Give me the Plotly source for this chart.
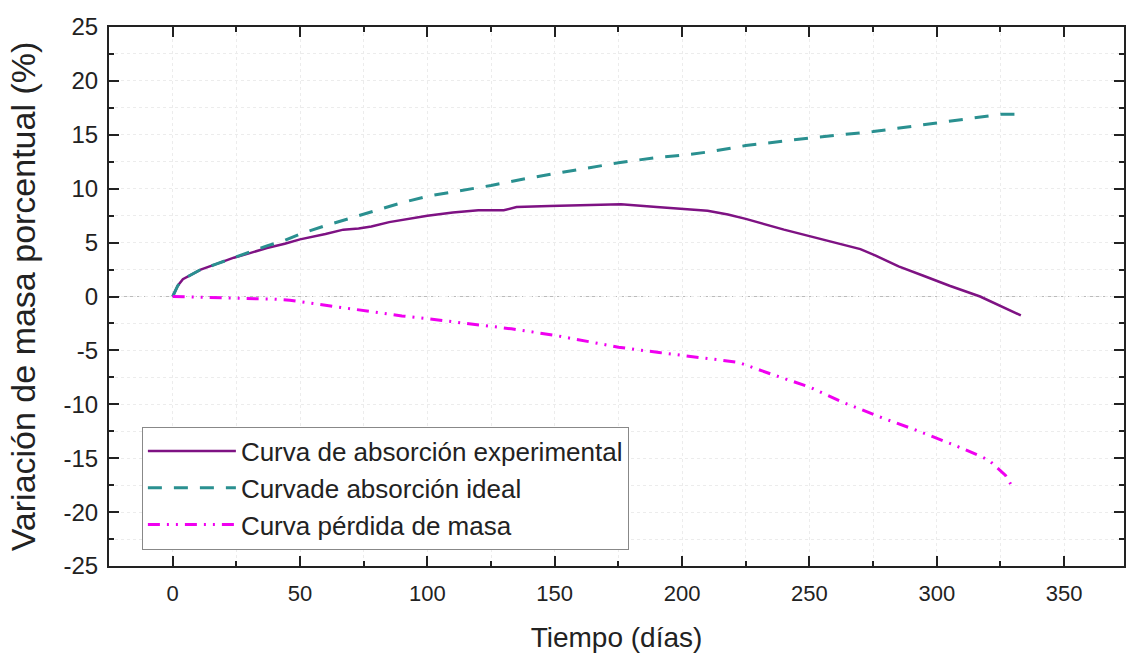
import plotly.graph_objects as go

# Experimental absorption curve
exp_x = [0, 2, 4, 7, 11, 17, 24, 30, 37, 44, 50, 60, 67, 73, 78, 85, 92, 100, 110, 120, 130, 135, 148, 165, 176, 190, 200, 210, 218, 225, 240, 250, 260, 270, 276, 285, 295, 305, 317, 325, 333]
exp_y = [0, 1.0, 1.6, 2.0, 2.5, 3.0, 3.6, 4.0, 4.5, 4.9, 5.3, 5.8, 6.2, 6.3, 6.5, 6.9, 7.2, 7.5, 7.8, 8.0, 8.0, 8.3, 8.4, 8.45, 8.55, 8.3, 8.1, 7.95, 7.6, 7.2, 6.2, 5.6, 5.0, 4.4, 3.8, 2.8, 1.9, 1.0, 0.0, -0.9, -1.76]

# Ideal absorption curve
ide_x = [0, 2, 4, 7, 11, 17, 24, 30, 37, 44, 50, 59, 70, 80, 90, 100, 110, 125, 140, 152, 175, 190, 200, 210, 225, 250, 275, 300, 315, 325, 332]
ide_y = [0, 1.0, 1.6, 2.0, 2.5, 3.0, 3.6, 4.1, 4.7, 5.2, 5.8, 6.5, 7.3, 8.0, 8.7, 9.3, 9.7, 10.3, 11.0, 11.5, 12.4, 12.9, 13.1, 13.4, 14.0, 14.7, 15.3, 16.1, 16.6, 16.9, 16.9]

# Mass loss curve
per_x = [0, 10, 20, 30, 40, 46, 60, 76, 90, 105, 133, 150, 175, 191, 205, 219, 222, 235, 250, 264, 278, 293, 307, 318, 321, 327, 329]
per_y = [0, -0.05, -0.1, -0.2, -0.25, -0.35, -0.8, -1.3, -1.8, -2.2, -3.0, -3.6, -4.7, -5.2, -5.6, -6.0, -6.1, -7.2, -8.4, -9.9, -11.2, -12.5, -13.8, -14.9, -15.3, -16.6, -17.4]

names = ["Curva de absorción experimental", "Curvade absorción ideal", "Curva pérdida de masa"]

# Tick labels
x_tickvals = [0, 50, 100, 150, 200, 250, 300, 350]
x_ticktext = ["0", "50", "100", "150", "200", "250", "300", "350"]
y_tickvals = [25, 20, 15, 10, 5, 0, -5, -10, -15, -20, -25]
y_ticktext = ["25", "20", "15", "10", "5", "0", "-5", "-10", "-15", "-20", "-25"]

FONT = "Liberation Sans, Arial, sans-serif"
INK = "#222222"

fig = go.Figure()
fig.add_trace(go.Scatter(x=exp_x, y=exp_y, mode="lines", name=names[0],
                         line=dict(color="#7E1283", width=2.5)))
fig.add_trace(go.Scatter(x=ide_x, y=ide_y, mode="lines", name=names[1],
                         line=dict(color="#2A9090", width=3, dash="14px,12px")))
fig.add_trace(go.Scatter(x=per_x, y=per_y, mode="lines", name=names[2],
                         line=dict(color="#F000F0", width=3, dash="12px,7px,2px,7px,2px,7px")))

axis_common = dict(
    showline=True, linecolor=INK, linewidth=2, mirror="ticks",
    ticks="inside", ticklen=10, tickwidth=2, tickcolor=INK,
    showgrid=True, gridcolor="#ececec", gridwidth=1, griddash="dot",
    zeroline=False,
)

fig.update_xaxes(**axis_common, range=[-25, 373.5],
                 tickmode="array", tickvals=x_tickvals, ticktext=x_ticktext,
                 tickfont=dict(family=FONT, size=22, color=INK), ticklabelstandoff=7,
                 minor=dict(ticks="inside", ticklen=5, tickwidth=2, tickcolor=INK, dtick=25, tick0=0,
                            showgrid=True, gridcolor="#ececec", griddash="dot"),
                 title=dict(text="Tiempo (días)", font=dict(family=FONT, size=28, color=INK), standoff=22))
fig.update_yaxes(**axis_common, range=[-25, 25],
                 tickmode="array", tickvals=y_tickvals, ticktext=y_ticktext,
                 tickfont=dict(family=FONT, size=24, color=INK), ticklabelstandoff=4,
                 minor=dict(ticks="inside", ticklen=5, tickwidth=2, tickcolor=INK, dtick=2.5, tick0=0,
                            showgrid=True, gridcolor="#ececec", griddash="dot"),
                 title=dict(text="Variación de masa porcentual (%)", font=dict(family=FONT, size=34, color=INK), standoff=18))

fig.add_shape(type="line", xref="paper", yref="y", x0=0, x1=1, y0=0, y1=0,
              line=dict(color="#bbbbbb", width=1, dash="4px,3px"), layer="below")

fig.update_layout(
    width=1126, height=657,
    margin=dict(l=109, r=0, t=27, b=91),
    paper_bgcolor="white", plot_bgcolor="white",
    showlegend=True,
    legend=dict(x=0.0324, y=0.1447, xanchor="left", yanchor="middle",
                bgcolor="white", bordercolor="#888888", borderwidth=1,
                font=dict(family=FONT, size=26, color=INK),
                itemwidth=88, tracegroupgap=0),
)

fig.write_html("out.html")
